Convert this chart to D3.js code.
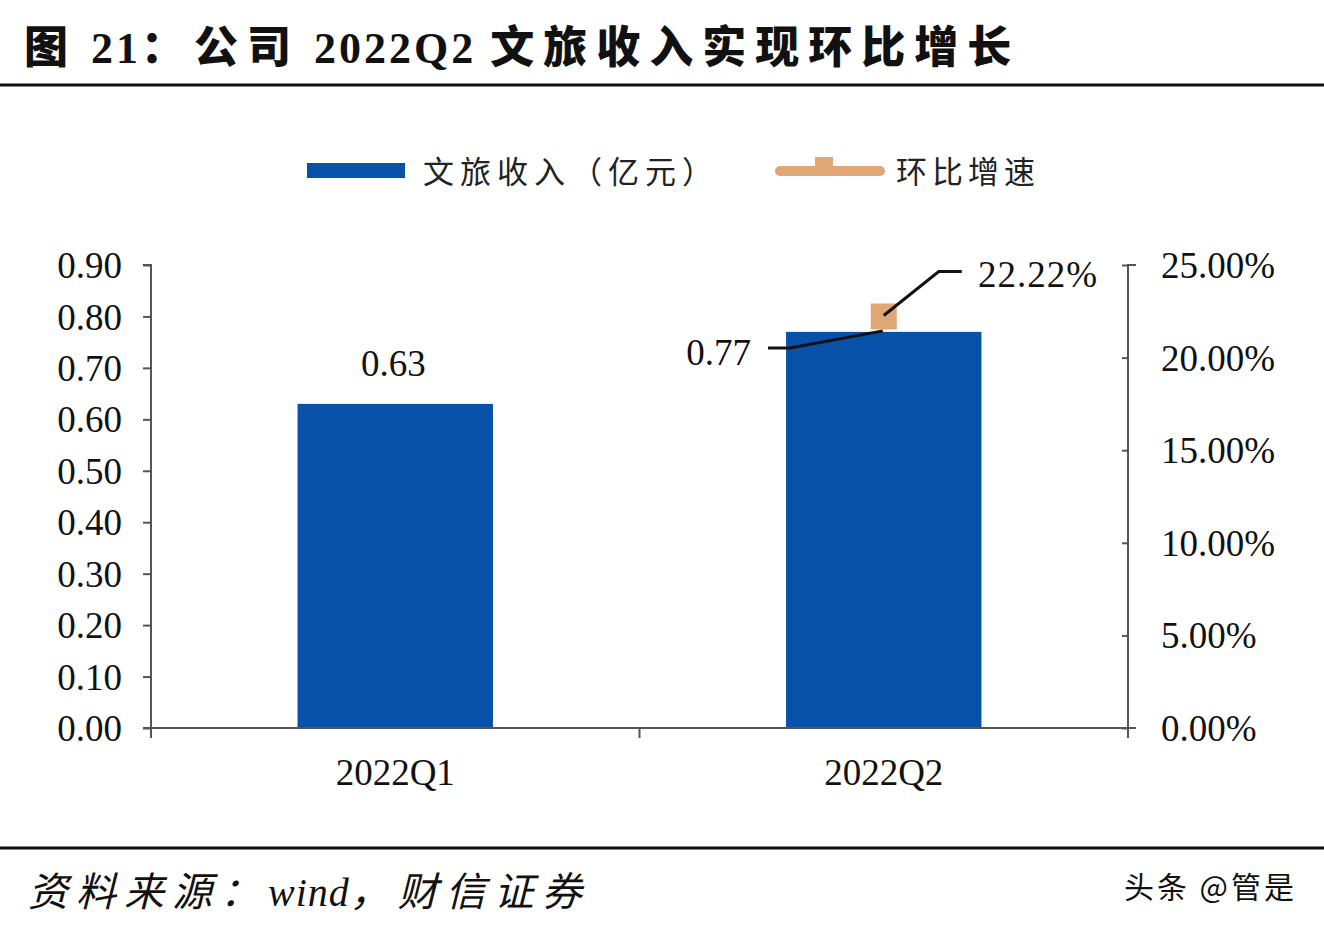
<!DOCTYPE html>
<html><head><meta charset="utf-8">
<script src="https://cdn.jsdelivr.net/npm/d3@7/dist/d3.min.js"></script>
<style>body{margin:0;background:#fff}svg{display:block}text{white-space:pre}</style>
</head><body><svg id="c" width="1324" height="932"></svg>
<script>
const categories = ["2022Q1", "2022Q2"];
const revenue = [0.63, 0.77];
const growth = [null, 0.2222];
const leftTicks = [0,0.1,0.2,0.3,0.4,0.5,0.6,0.7,0.8,0.9];
const rightTicks = [0,0.05,0.1,0.15,0.2,0.25];
const titleText = "图 21：公司 2022Q2 文旅收入实现环比增长";
const sourceText = "资料来源：wind，财信证券";
const legendNames = ["文旅收入（亿元）", "环比增速"];

const svg = d3.select("#c");
const BLUE = "#0751A9", TAN = "#E0A673", AX = "#555";
const serif = "'Liberation Serif','Times New Roman',serif";
const mixed = "'Liberation Serif','Noto Sans CJK SC',serif";
const cjk = "'Noto Sans CJK SC',sans-serif";
const FS = 37;

// write mixed text: CJK runs get letter spacing, latin runs stay tight
function mixedText(sel, str, cjkSpacing, latinSpacing) {
  const runs = str.match(/[\u3000-\u9fff\uff00-\uffef]+|[^\u3000-\u9fff\uff00-\uffef]+/g);
  runs.forEach(r => {
    const isC = /[\u3000-\u9fff\uff00-\uffef]/.test(r);
    sel.append("tspan").attr("letter-spacing", isC ? cjkSpacing : latinSpacing).text(r);
  });
}

svg.append("rect").attr("width",1324).attr("height",932).attr("fill","#fff");
// title
const t = svg.append("text").attr("x",24).attr("y",63).attr("font-family",mixed).attr("font-weight",900)
  .attr("font-size",44).attr("fill","#111");
mixedText(t, titleText, 9, 3);
svg.append("line").attr("x1",0).attr("x2",1324).attr("y1",85).attr("y2",85).attr("stroke","#111").attr("stroke-width",3);
svg.append("line").attr("x1",0).attr("x2",1324).attr("y1",848).attr("y2",848).attr("stroke","#111").attr("stroke-width",3);

const x0 = 151, x1 = 1128, yTop = 265, yBot = 728;
const x = d3.scaleBand().domain(categories).range([x0,x1]).paddingInner(0.6).paddingOuter(0.3);
const yL = d3.scaleLinear().domain([0,0.9]).range([yBot,yTop]);
const yR = d3.scaleLinear().domain([0,0.25]).range([yBot,yTop]);

// bars
svg.selectAll(".bar").data(revenue).join("rect")
  .attr("x",(d,i)=>x(categories[i])).attr("width",x.bandwidth())
  .attr("y",d=>yL(d)).attr("height",d=>yBot-yL(d)).attr("fill",BLUE);

// left axis
const gL = svg.append("g").attr("transform",`translate(${x0},0)`)
  .call(d3.axisLeft(yL).tickValues(leftTicks).tickFormat(d3.format(".2f")).tickSize(8).tickPadding(21));
gL.selectAll("text").attr("font-family",serif).attr("font-size",FS).attr("fill","#111").attr("dy","0.34em");
gL.selectAll("line,path").attr("stroke",AX).attr("stroke-width",2);
gL.select("path").attr("d",`M-8,${yTop}H0V${yBot+10}`);

// right axis
const gR = svg.append("g").attr("transform",`translate(${x1},0)`)
  .call(d3.axisRight(yR).tickValues(rightTicks).tickFormat(d3.format(".2%")).tickSize(0).tickPadding(33));
gR.selectAll("text").attr("font-family",serif).attr("font-size",FS).attr("fill","#111").attr("dy","0.34em");
gR.select("path").attr("d",`M8,${yTop}H0V${yBot+10}`).attr("stroke",AX).attr("stroke-width",2).attr("fill","none");
gR.selectAll(".tick").append("line").attr("x1",0).attr("x2",-6).attr("stroke",AX).attr("stroke-width",2);

// bottom axis
const gB = svg.append("g").attr("transform",`translate(0,${yBot})`);
gB.append("line").attr("x1",x0-8).attr("x2",x1+8).attr("y1",0).attr("y2",0).attr("stroke",AX).attr("stroke-width",2);
[x0,(x0+x1)/2,x1].forEach(v=>gB.append("line").attr("x1",v).attr("x2",v).attr("y1",0).attr("y2",10).attr("stroke",AX).attr("stroke-width",2));
gB.selectAll(".xl").data(categories).join("text")
  .attr("x",d=>x(d)+x.bandwidth()/2).attr("y",57).attr("text-anchor","middle")
  .attr("font-family",serif).attr("font-size",FS).attr("fill","#111").text(d=>d);

// growth marker
const mx = x(categories[1])+x.bandwidth()/2, my = yR(growth[1]);
svg.append("rect").attr("x",mx-13).attr("y",my-13).attr("width",26).attr("height",26).attr("fill",TAN);

// labels
svg.append("text").attr("x",x(categories[0])+x.bandwidth()/2-2).attr("y",yL(revenue[0])-28).attr("text-anchor","middle")
  .attr("font-family",serif).attr("font-size",FS).attr("fill","#111").text(revenue[0].toFixed(2));
const bx = x(categories[1])+x.bandwidth()/2, by = yL(revenue[1]);
svg.append("text").attr("x",751).attr("y",by+33).attr("text-anchor","end")
  .attr("font-family",serif).attr("font-size",FS).attr("fill","#111").text(revenue[1].toFixed(2));
svg.append("path").attr("d",`M768,${by+16}L790,${by+16}L${bx-1},${by-1}`).attr("fill","none").attr("stroke","#111").attr("stroke-width",3);
svg.append("path").attr("d",`M${mx},${my-1}L${mx+55},${my-45}L${mx+78},${my-45}`).attr("fill","none").attr("stroke","#111").attr("stroke-width",3);
svg.append("text").attr("x",978).attr("y",my-29)
  .attr("font-family",serif).attr("font-size",FS).attr("letter-spacing",1).attr("fill","#111").text(d3.format(".2%")(growth[1]));

// legend
svg.append("rect").attr("x",307).attr("y",163).attr("width",98).attr("height",15).attr("fill",BLUE);
svg.append("text").attr("x",423).attr("y",183).attr("font-family",cjk).attr("font-size",31).attr("letter-spacing",6).attr("fill","#222").text(legendNames[0]);
svg.append("line").attr("x1",780).attr("x2",880).attr("y1",171).attr("y2",171).attr("stroke",TAN).attr("stroke-width",10).attr("stroke-linecap","round");
svg.append("rect").attr("x",815).attr("y",157).attr("width",18).attr("height",12).attr("fill",TAN);
svg.append("text").attr("x",896).attr("y",183).attr("font-family",cjk).attr("font-size",31).attr("letter-spacing",5).attr("fill","#222").text(legendNames[1]);

// source
const s = svg.append("text").attr("x",28).attr("y",906).attr("font-family",mixed).attr("font-style","italic")
  .attr("font-size",40).attr("fill","#111");
mixedText(s, sourceText, 8, 1);
svg.append("text").attr("x",1297).attr("y",898).attr("text-anchor","end").attr("font-family",cjk)
  .attr("font-size",30).attr("letter-spacing",3).attr("fill","#111").text("头条 @管是");
</script></body></html>
